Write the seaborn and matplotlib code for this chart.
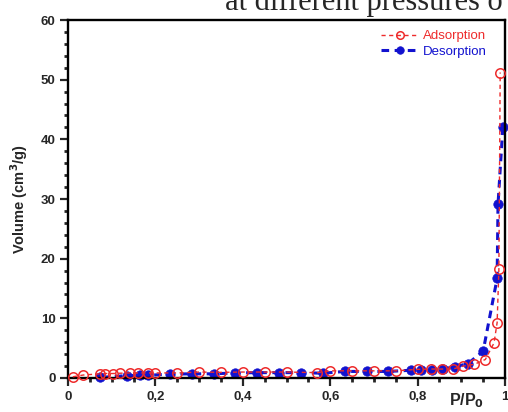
import numpy as np
import pandas as pd
import matplotlib
matplotlib.use("Agg")
import matplotlib.pyplot as plt
import seaborn as sns
from matplotlib.ticker import MultipleLocator, FuncFormatter

# Nitrogen isotherm branches: relative pressure P/P0 and adsorbed volume (cm3/g)
ads_p = [0.011, 0.035, 0.073, 0.085, 0.103, 0.119, 0.142, 0.160, 0.183, 0.200,
         0.250, 0.300, 0.350, 0.400, 0.450, 0.500, 0.570, 0.600, 0.650, 0.700,
         0.750, 0.800, 0.830, 0.855, 0.880, 0.905, 0.930, 0.955, 0.975, 0.982,
         0.986, 0.989]
ads_v = [0.2, 0.5, 0.7, 0.75, 0.75, 0.8, 0.85, 0.85, 0.85, 0.85,
         0.85, 1.0, 0.95, 1.0, 1.0, 1.0, 0.9, 1.2, 1.2, 1.2,
         1.2, 1.45, 1.5, 1.5, 1.5, 2.0, 2.3, 3.1, 5.9, 9.3,
         18.2, 51.2]

des_p = [0.995, 0.984, 0.982, 0.950, 0.915, 0.886, 0.858, 0.833, 0.808, 0.785,
         0.732, 0.684, 0.634, 0.583, 0.533, 0.483, 0.432, 0.382, 0.333, 0.283,
         0.233, 0.183, 0.165, 0.135, 0.073]
des_v = [42.0, 29.1, 16.7, 4.5, 2.4, 1.9, 1.5, 1.4, 1.3, 1.3,
         1.1, 1.1, 1.1, 0.8, 0.9, 0.9, 0.9, 0.85, 0.7, 0.7,
         0.65, 0.45, 0.45, 0.4, 0.1]

x_ticks = [0, 0.2, 0.4, 0.6, 0.8, 1.0]
y_ticks = [0, 10, 20, 30, 40, 50, 60]

RED = "#ee2b2b"
BLUE = "#1212cf"

sns.set_style("white")
plt.rcParams["font.family"] = ["Liberation Sans", "DejaVu Sans"]

fig = plt.figure(figsize=(5.08, 4.12), dpi=100)
ax = fig.add_axes([68 / 508, 34 / 412, 437 / 508, 358 / 412])

ads = pd.DataFrame({"p": ads_p, "v": ads_v})
des = pd.DataFrame({"p": des_p, "v": des_v})

sns.lineplot(data=ads, x="p", y="v", sort=False, estimator=None, ax=ax,
             color=RED, linestyle=(0, (3, 2.5)), linewidth=1.0,
             marker="o", markersize=6.8, markerfacecolor="none",
             markeredgecolor=RED, markeredgewidth=1.1, clip_on=False,
             label="Adsorption", zorder=3)
sns.lineplot(data=des, x="p", y="v", sort=False, estimator=None, ax=ax,
             color=BLUE, linestyle=(0, (2.5, 1.8)), linewidth=2.2,
             marker="o", markersize=6.8, markerfacecolor=BLUE,
             markeredgecolor=BLUE, markeredgewidth=0.5, clip_on=False,
             label="Desorption", zorder=2)

ax.set_xlim(0, 1)
ax.set_ylim(0, 60)
ax.set_xticks(x_ticks)
ax.set_yticks(y_ticks)
ax.xaxis.set_minor_locator(MultipleLocator(0.05))
ax.yaxis.set_minor_locator(MultipleLocator(2))
ax.xaxis.set_major_formatter(FuncFormatter(
    lambda v, _: "0" if v == 0 else ("1" if v == 1 else f"{v:.1f}".replace(".", ","))))

for side in ["left", "right", "top", "bottom"]:
    ax.spines[side].set_visible(True)
    ax.spines[side].set_color("black")
    ax.spines[side].set_linewidth(1.7)

ax.tick_params(axis="both", which="major", direction="out", length=6, width=1.6,
               labelsize=9.5, left=True, bottom=True, pad=3)
ax.tick_params(axis="both", which="minor", direction="out", length=3, width=2.0,
               left=True, bottom=True)
for lbl in ax.get_xticklabels() + ax.get_yticklabels():
    lbl.set_fontweight("bold")

ax.set_xlabel("")
ax.set_ylabel("Volume (cm$^\\mathbf{3}$/g)", fontsize=10.5, fontweight="bold")
ax.yaxis.set_label_coords(-0.088, 0.5)
fig.text(467 / 508, 1 - 401 / 412, "P/P$_\\mathbf{0}$", fontsize=11.5,
         fontweight="bold", ha="center", va="center")

leg = ax.legend(loc="upper right", frameon=False, fontsize=9.5, handlelength=2.9,
                handletextpad=0.25, labelspacing=0.25, borderpad=0,
                borderaxespad=0, bbox_to_anchor=(0.958, 0.972),
                markerscale=0.8)
for txt, col in zip(leg.get_texts(), [RED, BLUE]):
    txt.set_color(col)

# Caption line running off the top edge of the figure
fig.text(225 / 508, 1 - 10 / 412, "at different pressures o", fontsize=22,
         family=["Liberation Serif", "DejaVu Serif"], ha="left", va="baseline")

fig.savefig("out.png", dpi=100)
